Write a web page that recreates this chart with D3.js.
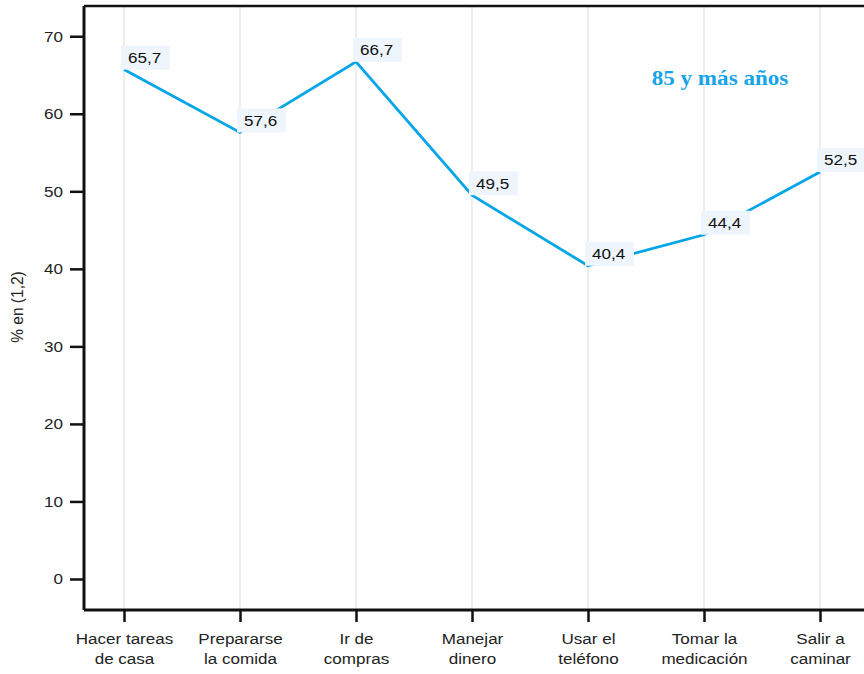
<!DOCTYPE html>
<html><head><meta charset="utf-8">
<script src="https://cdn.jsdelivr.net/npm/d3@7"></script>
<style>body{margin:0;background:#fff}svg{display:block}</style>
</head><body>
<svg id="c" width="864" height="674" font-family="'Liberation Sans',Arial,sans-serif"></svg>
<script>
const categories = [["Hacer tareas","de casa"],["Prepararse","la comida"],["Ir de","compras"],["Manejar","dinero"],["Usar el","teléfono"],["Tomar la","medicación"],["Salir a","caminar"]];
const values = [65.7, 57.6, 66.7, 49.5, 40.4, 44.4, 52.5];
const yTicks = [0, 10, 20, 30, 40, 50, 60, 70];
const title = "85 y más años";
const yLabel = "% en (1,2)";

(function () {
const svg = d3.select("#c");
const pL = 84, pT = 6, pB = 610, pR = 864;
const SX = 1.1, FS = 15.5;
const keys = categories.map((d, i) => i);
const x = d3.scalePoint().domain(keys).range([124, 820]);
const y = d3.scaleLinear().domain([-4, 73.9]).range([pB, pT]);
const blue = "#05a6e8";

// gridlines
svg.append("g").selectAll("line").data(keys).join("line")
  .attr("x1", d => x(d)).attr("x2", d => x(d)).attr("y1", pT).attr("y2", pB)
  .attr("stroke", "#e8e8e8").attr("stroke-width", 1.5);

// frame
svg.append("line").attr("x1", pL).attr("x2", pR).attr("y1", pT).attr("y2", pT)
  .attr("stroke", "#111").attr("stroke-width", 2.5);

// y axis
const ya = svg.append("g").attr("transform", `translate(${pL},0)`)
  .call(d3.axisLeft(y).tickValues(yTicks).tickSize(14).tickPadding(6).tickFormat(d3.format("d")));
ya.select(".domain").attr("stroke", "#111").attr("stroke-width", 3).attr("d", `M0,${pT}V${pB}`);
ya.selectAll(".tick line").attr("stroke", "#111").attr("stroke-width", 2.5);
ya.selectAll(".tick text").attr("font-size", FS).attr("fill", "#222").attr("font-family", null)
  .attr("x", 0).attr("transform", `translate(-21,0) scale(${SX},1)`);

// x axis
const xa = svg.append("g").attr("transform", `translate(0,${pB})`)
  .call(d3.axisBottom(x).tickSize(12).tickFormat(""));
xa.select(".domain").attr("stroke", "#111").attr("stroke-width", 3).attr("d", `M${pL},0H${pR}`);
xa.selectAll(".tick line").attr("stroke", "#111").attr("stroke-width", 2.5);
xa.selectAll(".tick").each(function(d) {
  const t = d3.select(this).append("text").attr("fill", "#222").attr("font-size", FS)
    .attr("text-anchor", "middle").attr("transform", `scale(${SX},1)`);
  categories[d].forEach((s, j) => t.append("tspan").attr("x", 0).attr("y", 34 + j * 20).text(s));
});

// y label
svg.append("text").attr("transform", `translate(23,307) rotate(-90) scale(1,${SX})`)
  .attr("text-anchor", "middle").attr("font-size", FS).attr("fill", "#222").text(yLabel);

// line
const line = d3.line().x((d, i) => x(i)).y(d => y(d));
svg.append("path").datum(values).attr("d", line).attr("fill", "none")
  .attr("stroke", blue).attr("stroke-width", 2.8).attr("stroke-linejoin", "miter");

// value labels
const fmt = v => d3.format(".1f")(v).replace(".", ",");
const lg = svg.append("g").selectAll("g").data(values).join("g")
  .attr("transform", (d, i) => `translate(${x(i)},${y(d)})`);
lg.append("rect").attr("x", -3).attr("y", -24).attr("width", 49).attr("height", 24).attr("fill", "#eef5fc");
lg.append("text").attr("transform", `translate(4,-6.5) scale(${SX},1)`).attr("font-size", FS).attr("fill", "#111").text(d => fmt(d));

// title
svg.append("text").attr("transform", `translate(720,85) scale(${SX},1)`).attr("text-anchor", "middle")
  .attr("font-family", "'Liberation Serif','Times New Roman',serif").attr("font-weight", "bold")
  .attr("font-size", 21).attr("fill", "#18a5e8").text(title);
})();
</script>
</body></html>
